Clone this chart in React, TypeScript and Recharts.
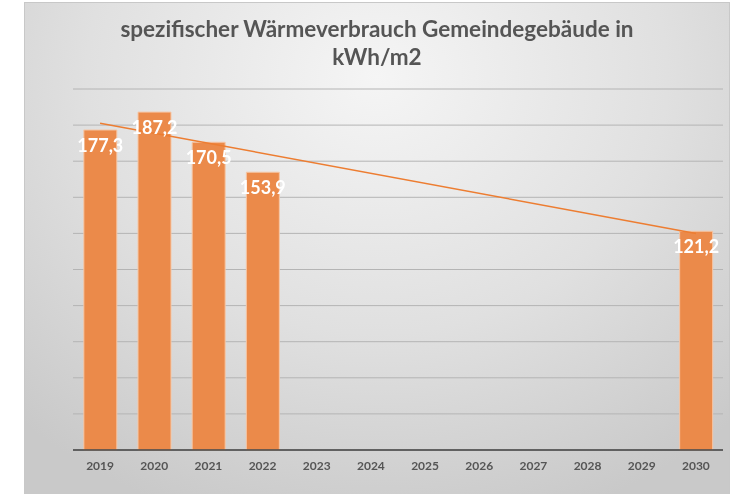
import { Bar, CartesianGrid, ComposedChart, LabelList, Line, XAxis, YAxis } from 'recharts'

const years = ['2019', '2020', '2021', '2022', '2023', '2024', '2025', '2026', '2027', '2028', '2029', '2030']
const verbrauch: (number | null)[] = [177.3, 187.2, 170.5, 153.9, null, null, null, null, null, null, null, 121.2]
// trend line (start 2019, end 2030)
const trend: (number | null)[] = [181, null, null, null, null, null, null, null, null, null, null, 120]
const yTicks = [0, 20, 40, 60, 80, 100, 120, 140, 160, 180, 200]

const data = years.map((year, i) => ({ year, value: verbrauch[i], trend: trend[i] }))

const fmt = (v: unknown) => (typeof v === 'number' ? v.toFixed(1).replace('.', ',') : '')

export default function App() {
  return (
    <div
      style={{
        position: 'fixed',
        top: 0,
        left: 0,
        width: 738,
        height: 494,
        background: '#fff',
        fontFamily: 'Lato, "Open Sans", sans-serif'
      }}
    >
      <div
        style={{
          position: 'absolute',
          left: 24,
          top: 2,
          width: 706,
          height: 492,
          boxSizing: 'border-box',
          borderTop: '1px solid #c8c8c8',
          borderLeft: '1px solid #c8c8c8',
          borderRight: '1px solid #c8c8c8',
          background: 'radial-gradient(ellipse 75% 95% at 50% 15%, #f5f5f5 0%, #e0e0e0 55%, #c9c9c9 100%)'
        }}
      >
        <div
          style={{
            position: 'absolute',
            top: 12,
            left: 0,
            width: '100%',
            textAlign: 'center',
            color: '#555555',
            fontSize: 22.5,
            fontWeight: 700,
            lineHeight: '28px'
          }}
        >
          spezifischer Wärmeverbrauch Gemeindegebäude in
          <br />
          kWh/m2
        </div>
        <ComposedChart
          width={706}
          height={492}
          data={data}
          margin={{ top: 86, right: 8, left: 48, bottom: 15 }}
          barCategoryGap="20%"
          style={{ position: 'absolute', top: 0, left: 0 }}
        >
          <CartesianGrid vertical={false} stroke="#b4b4b4" strokeWidth={1} />
          <YAxis hide domain={[0, 200]} ticks={yTicks} />
          <XAxis
            dataKey="year"
            height={30}
            tickLine={false}
            axisLine={{ stroke: '#404040', strokeWidth: 1.5 }}
            tick={{ fontSize: 12, fill: '#555555', fontWeight: 700 }}
            tickMargin={5}
          />
          <Bar dataKey="value" fill="#EB8A4A" stroke="#F6C7A6" strokeWidth={1} isAnimationActive={false}>
            <LabelList
              dataKey="value"
              position="insideTop"
              offset={9}
              formatter={fmt}
              fill="#ffffff"
              fontSize={18}
              fontWeight={700}
            />
          </Bar>
          <Line
            dataKey="trend"
            stroke="#ED7D31"
            strokeWidth={1.5}
            dot={false}
            connectNulls
            isAnimationActive={false}
          />
        </ComposedChart>
      </div>
    </div>
  )
}
